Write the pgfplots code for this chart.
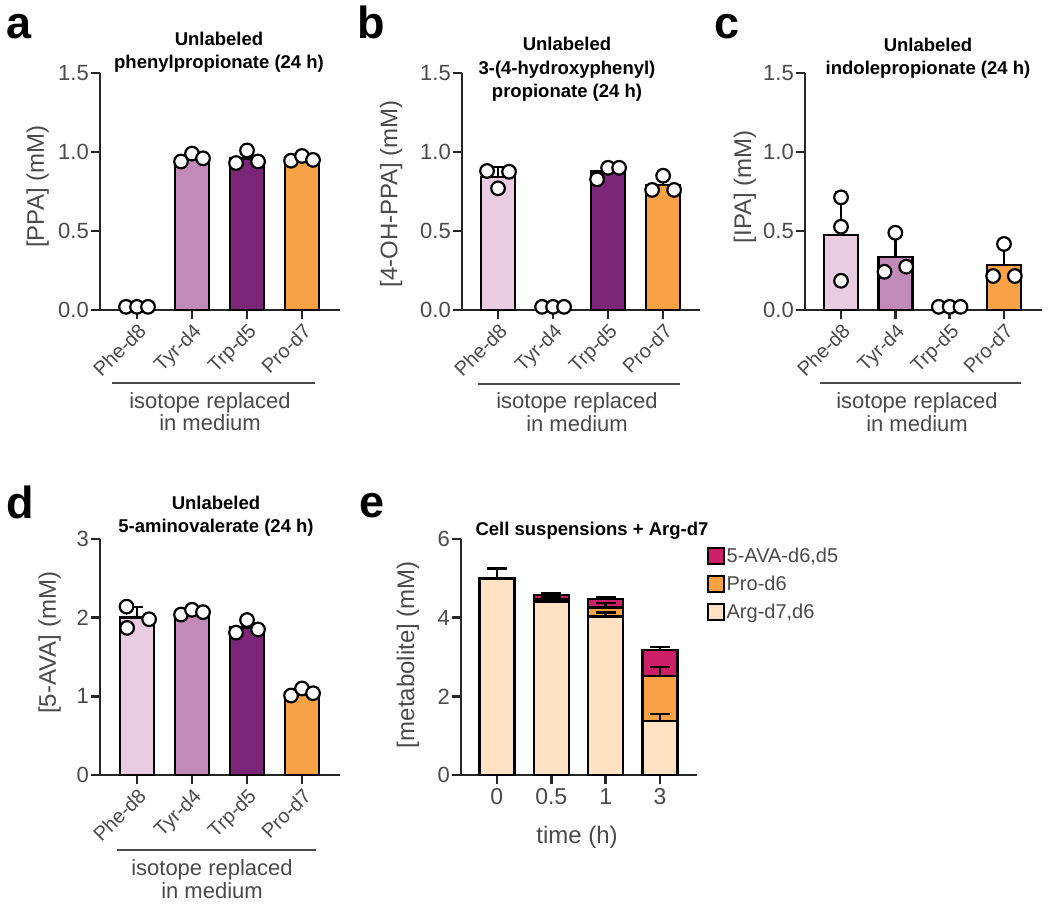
\documentclass[border=0pt]{standalone}
\usepackage{pgfplots}
\pgfplotsset{compat=1.18}
\usepackage{fontspec}
\setmainfont{Liberation Sans}
\definecolor{cPhe}{HTML}{E9CBE2}
\definecolor{cTyr}{HTML}{C18AB9}
\definecolor{cTrp}{HTML}{7B2679}
\definecolor{cPro}{HTML}{F8A145}
\definecolor{cArg}{HTML}{FFE1C4}
\definecolor{cAVA}{HTML}{CC1F68}
\definecolor{ax}{HTML}{262626}
\definecolor{tl}{HTML}{4A4A4A}
\newcommand{\fs}[2]{\fontsize{#1}{#2}\selectfont}
\pgfplotsset{
  gp/.style={
    scale only axis, anchor=south west, clip=false,
    axis lines=left,
    axis line style={-, line width=2.5pt, draw=ax},
    tick style={line width=2.5pt, draw=ax},
    major tick length=9pt, tick align=outside,
    ymin=0, xtick={0,1,2,3},
    /pgf/number format/assume math mode=true,
    tick label style={text=tl},
    yticklabel style={font=\fs{22}{24}, inner sep=2pt},
    ylabel style={font=\fs{24}{26}, text=tl, anchor=center},
  },
  cat/.style={
    xticklabels={Phe-d8,Tyr-d4,Trp-d5,Pro-d7},
    xticklabel style={rotate=45, anchor=north east, font=\fs{20}{22}, inner sep=2pt},
    ymax=1.5, ytick={0,0.5,1,1.5},
    yticklabel style={/pgf/number format/fixed, /pgf/number format/fixed zerofill, /pgf/number format/precision=1},
  },
  mybar/.style={ybar, bar width=34pt, bar shift=0pt, fill=#1, draw=black, line width=2.4pt},
  errb/.style={draw=none, no markers, forget plot,
    /pgfplots/error bars/y dir=plus, /pgfplots/error bars/y explicit,
    /pgfplots/error bars/error bar style={line width=2.4pt, draw=black, solid},
    /pgfplots/error bars/error mark options={rotate=90, line width=2.4pt, mark size=#1, draw=black, solid}},
  errb/.default=6pt,
  dots/.style={only marks, mark=*, mark size=6.8pt, mark options={fill=white, draw=black, line width=2.2pt}, forget plot},
}
\begin{document}
\begin{tikzpicture}
\useasboundingbox (0,0) rectangle (1050pt,-911pt);

% ---------------- panel a
\begin{axis}[gp, cat, at={(100pt,-310pt)}, width=240pt, height=237pt,
  xmin=-0.673, xmax=3.69,
  ylabel={[PPA] (mM)}, ylabel style={at={(axis description cs:-0.26,0.52)}}]
\addplot[mybar=cPhe] coordinates {(0,0.005)};
\addplot[mybar=cTyr] coordinates {(1,0.963)};
\addplot[mybar=cTrp] coordinates {(2,0.96)};
\addplot[mybar=cPro] coordinates {(3,0.957)};
\addplot[errb] coordinates {(1,0.963) +- (0,0.025) (2,0.96) +- (0,0.044) (3,0.957) +- (0,0.016)};
\addplot[dots] coordinates {(-0.2,0.02) (0,0.02) (0.2,0.02)
  (0.8,0.94) (1,0.99) (1.2,0.96)
  (1.8,0.93) (2,1.01) (2.2,0.94)
  (2.8,0.945) (3,0.975) (3.2,0.95)};
\end{axis}

% ---------------- panel b
\begin{axis}[gp, cat, at={(462pt,-310pt)}, width=238pt, height=237pt,
  xmin=-0.655, xmax=3.67,
  ylabel={[4-OH-PPA] (mM)}, ylabel style={at={(axis description cs:-0.298,0.49)}}]
\addplot[mybar=cPhe] coordinates {(0,0.842)};
\addplot[mybar=cTyr] coordinates {(1,0.005)};
\addplot[mybar=cTrp] coordinates {(2,0.876)};
\addplot[mybar=cPro] coordinates {(3,0.79)};
\addplot[errb] coordinates {(0,0.842) +- (0,0.062) (2,0.876) +- (0,0.042) (3,0.79) +- (0,0.052)};
\addplot[dots] coordinates {(-0.2,0.88) (0,0.77) (0.2,0.875)
  (0.8,0.02) (1,0.02) (1.2,0.02)
  (1.8,0.827) (2,0.90) (2.2,0.90)
  (2.8,0.76) (3,0.85) (3.2,0.76)};
\end{axis}

% ---------------- panel c
\begin{axis}[gp, cat, at={(805pt,-310pt)}, width=237pt, height=237pt,
  xmin=-0.663, xmax=3.70,
  ylabel={[IPA] (mM)}, ylabel style={at={(axis description cs:-0.253,0.52)}}]
\addplot[mybar=cPhe] coordinates {(0,0.475)};
\addplot[mybar=cTyr] coordinates {(1,0.335)};
\addplot[mybar=cTrp] coordinates {(2,0.005)};
\addplot[mybar=cPro] coordinates {(3,0.283)};
\addplot[errb] coordinates {(0,0.475) +- (0,0.268) (1,0.335) +- (0,0.134) (3,0.283) +- (0,0.117)};
\addplot[dots] coordinates {(0,0.713) (0,0.527) (0,0.185)
  (1,0.489) (0.8,0.242) (1.2,0.274)
  (1.8,0.02) (2,0.02) (2.2,0.02)
  (3,0.418) (2.8,0.215) (3.2,0.215)};
\end{axis}

% ---------------- panel d
\begin{axis}[gp, at={(100pt,-775pt)}, width=240pt, height=236pt,
  xmin=-0.673, xmax=3.69, ymax=3, ytick={0,1,2,3},
  xticklabels={Phe-d8,Tyr-d4,Trp-d5,Pro-d7},
  xticklabel style={rotate=45, anchor=north east, font=\fs{20}{22}, inner sep=2pt},
  ylabel={[5-AVA] (mM)}, ylabel style={at={(axis description cs:-0.21,0.56)}}]
\addplot[mybar=cPhe] coordinates {(0,2.0)};
\addplot[mybar=cTyr] coordinates {(1,2.07)};
\addplot[mybar=cTrp] coordinates {(2,1.877)};
\addplot[mybar=cPro] coordinates {(3,1.05)};
\addplot[errb] coordinates {(0,2.0) +- (0,0.136) (1,2.07) +- (0,0.03) (2,1.877) +- (0,0.083) (3,1.05) +- (0,0.046)};
\addplot[dots] coordinates {(-0.19,2.14) (-0.18,1.87) (0.22,1.98)
  (0.8,2.04) (1,2.10) (1.2,2.07)
  (1.8,1.81) (2,1.97) (2.2,1.85)
  (2.8,1.01) (3,1.10) (3.2,1.04)};
\end{axis}

% ---------------- panel e
\begin{axis}[gp, at={(461pt,-775pt)}, width=236pt, height=236pt,
  xmin=-0.66, xmax=3.68, ymax=6, ytick={0,2,4,6},
  xticklabels={0,0.5,1,3},
  xticklabel style={font=\fs{23}{25}, inner sep=4pt},
  ylabel={[metabolite] (mM)}, ylabel style={at={(axis description cs:-0.225,0.51)}},
  legend style={draw=none, fill=none, at={(axis description cs:1.04,0.97)}, anchor=north west,
    font=\fs{20}{22}, text=tl, row sep=8pt, inner sep=0pt},
  legend cell align=left]
% cumulative tops: Arg + Pro + 5-AVA
\addplot[mybar=cAVA, bar width=35pt,
  legend image code/.code={\draw[fill=cAVA,draw=black,line width=2pt] (0pt,-8pt) rectangle (16pt,8pt);}]
  coordinates {(0,5.0) (1,4.58) (2,4.47) (3,3.18)};
\addlegendentry{5-AVA-d6,d5}
% Arg + Pro
\addplot[mybar=cPro, bar width=35pt,
  legend image code/.code={\draw[fill=cPro,draw=black,line width=2pt] (0pt,-8pt) rectangle (16pt,8pt);}]
  coordinates {(0,5.0) (1,4.47) (2,4.26) (3,2.52)};
\addlegendentry{Pro-d6}
% Arg
\addplot[mybar=cArg, bar width=35pt,
  legend image code/.code={\draw[fill=cArg,draw=black,line width=2pt] (0pt,-8pt) rectangle (16pt,8pt);}]
  coordinates {(0,5.0) (1,4.41) (2,4.03) (3,1.37)};
\addlegendentry{Arg-d7,d6}
\addplot[errb=10pt] coordinates {(0,5.0) +- (0,0.25) (1,4.41) +- (0,0.04) (2,4.03) +- (0,0.1) (3,1.37) +- (0,0.18)};
\addplot[errb=10pt] coordinates {(1,4.47) +- (0,0.04) (2,4.26) +- (0,0.11) (3,2.52) +- (0,0.23)};
\addplot[errb=10pt] coordinates {(1,4.58) +- (0,0.04) (2,4.47) +- (0,0.06) (3,3.18) +- (0,0.07)};
\end{axis}

% ---------------- panel letters
\node[anchor=base west, inner sep=0pt, font=\fs{45}{50}\bfseries] at (6pt,-38pt) {a};
\node[anchor=base west, inner sep=0pt, font=\fs{45}{50}\bfseries] at (357pt,-38pt) {b};
\node[anchor=base west, inner sep=0pt, font=\fs{45}{50}\bfseries] at (714pt,-38pt) {c};
\node[anchor=base west, inner sep=0pt, font=\fs{45}{50}\bfseries] at (6pt,-518pt) {d};
\node[anchor=base west, inner sep=0pt, font=\fs{45}{50}\bfseries] at (359pt,-517pt) {e};

% ---------------- titles
\begin{scope}[every node/.style={anchor=base, inner sep=0pt, font=\fs{18.5}{23}\bfseries}]
\node at (219pt,-45pt) {Unlabeled};
\node at (219pt,-68pt) {phenylpropionate (24 h)};
\node at (567pt,-50pt) {Unlabeled};
\node at (567pt,-74pt) {3-(4-hydroxyphenyl)};
\node at (567pt,-97pt) {propionate (24 h)};
\node at (928pt,-51pt) {Unlabeled};
\node at (928pt,-74pt) {indolepropionate (24 h)};
\node at (216pt,-509pt) {Unlabeled};
\node at (216pt,-532pt) {5-aminovalerate (24 h)};
\node at (592pt,-535pt) {Cell suspensions + Arg-d7};
\end{scope}

% ---------------- group brackets
\begin{scope}[line width=1.6pt]
\draw[tl] (112pt,-383pt) -- (315pt,-383pt);
\draw[tl] (478pt,-384pt) -- (680pt,-384pt);
\draw[tl] (820pt,-383pt) -- (1021pt,-383pt);
\draw[tl] (117pt,-850pt) -- (316pt,-850pt);
\end{scope}
\begin{scope}[every node/.style={anchor=base, inner sep=0pt, text=tl, font=\fs{22}{24}}]
\node at (210pt,-408pt) {isotope replaced};
\node at (210pt,-430pt) {in medium};
\node at (577pt,-408pt) {isotope replaced};
\node at (577pt,-431pt) {in medium};
\node at (917pt,-408pt) {isotope replaced};
\node at (917pt,-431pt) {in medium};
\node at (212pt,-875pt) {isotope replaced};
\node at (212pt,-898pt) {in medium};
\node[font=\fs{24}{26}] at (577pt,-843pt) {time (h)};
\end{scope}
\end{tikzpicture}
\end{document}
